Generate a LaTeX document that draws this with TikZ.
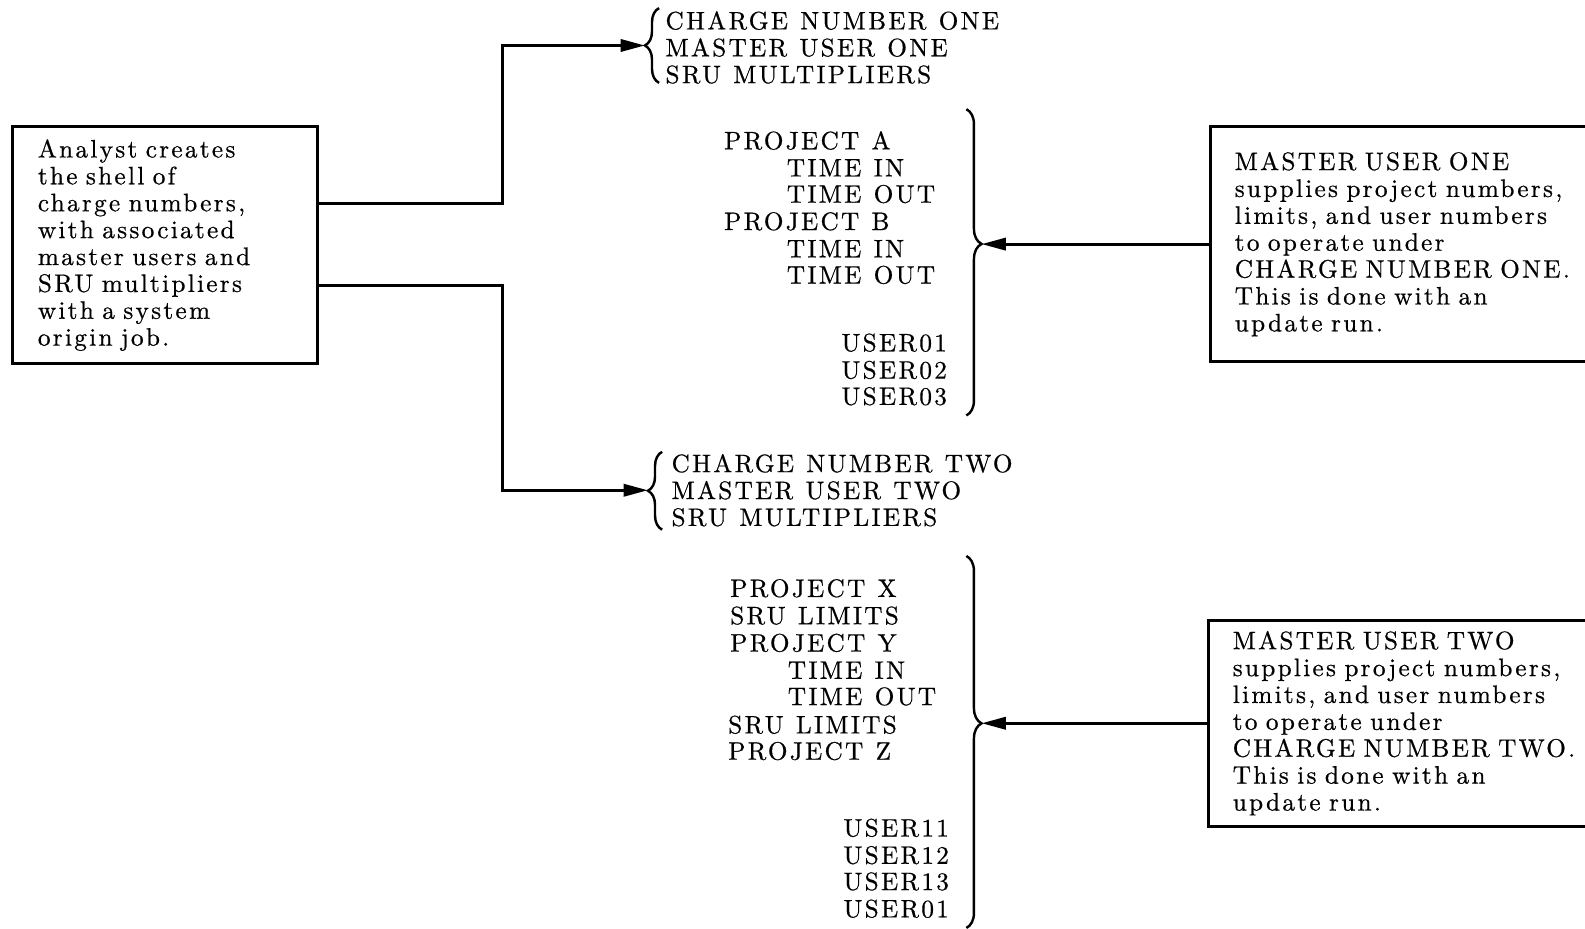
\documentclass[tikz,border=0pt]{standalone}
\usepackage{fontspec}
\setmainfont{lmroman10-regular.otf}[LetterSpace=9, WordSpace=1.15, FakeBold=0.6, BoldFont=lmroman10-bold.otf, ItalicFont=lmroman10-italic.otf]
\usepackage{tikz}
\usetikzlibrary{arrows.meta, calc, positioning, decorations.pathreplacing}

\tikzset{
    txt/.style={font=\fontsize{12.5}{13.3}\selectfont, inner sep=0pt},
    box/.style={draw, line width=1.5pt, inner xsep=12pt, inner ysep=4pt, align=left, anchor=north west},
    link/.style={line width=1.5pt, -{Triangle[length=12pt, width=6pt]}},
    brc/.style={decorate, decoration={brace, amplitude=#1}, line width=1.2pt}
}

\begin{document}
\begin{tikzpicture}[x=0.5pt, y=-0.5pt]
    \useasboundingbox (0,0) rectangle (1568,919);
    \clip (0,0) rectangle (1568,919);

    % analyst box
    \node[txt, box, minimum width=151pt, minimum height=117pt, text width=126pt] (shell) at (11,124)
        {Analyst creates\\the shell of\\charge numbers,\\with associated\\master users and\\SRU multipliers\\with a system\\origin job.};

    % charge numbers
    \coordinate (tipA) at (638,45);
    \coordinate (tipB) at (641,485);
    \draw[brc=7pt] (652,82) -- (652,8);
    \draw[brc=7pt] (655,524) -- (655,447);
    \node[txt, anchor=west, align=left] (cnone) at (658,47) {CHARGE NUMBER ONE\\MASTER USER ONE\\SRU MULTIPLIERS};
    \node[txt, anchor=west, align=left] (cntwo) at (664,485) {CHARGE NUMBER TWO\\MASTER USER TWO\\SRU MULTIPLIERS};

    \coordinate (forkA) at (497,201);
    \coordinate (forkB) at (497,282);
    \draw[link] (shell.east |- forkA) -- (forkA) |- (tipA);
    \draw[link] (shell.east |- forkB) -- (forkB) |- (tipB);

    % projects under charge number one
    \foreach \x/\y/\t [count=\i] in {716/139/PROJECT A, 778/166/TIME IN, 778/192/TIME OUT,
            716/219/PROJECT B, 778/246/TIME IN, 778/272/TIME OUT,
            832/339/USER01, 832/366/USER02, 832/392/USER03}
        \node[txt, anchor=west] (one-\i) at (\x,\y) {\t};
    \draw[brc=7.5pt, decoration={aspect=0.44}] (956,108) -- (956,411);
    \coordinate (tipC) at (971,241);

    % projects under charge number two
    \foreach \x/\y/\t [count=\i] in {722/582/PROJECT X, 722/609/SRU LIMITS, 722/636/PROJECT Y,
            779/663/TIME IN, 779/689/TIME OUT, 720/717/SRU LIMITS, 720/743/PROJECT Z,
            834/819/USER11, 834/846/USER12, 834/872/USER13, 834/899/USER01}
        \node[txt, anchor=west] (two-\i) at (\x,\y) {\t};
    \draw[brc=7.5pt, decoration={aspect=0.45}] (956,550) -- (956,918);
    \coordinate (tipD) at (971,716);

    % master user boxes
    \node[txt, box, minimum width=207pt, minimum height=116pt, text width=183pt] (muone) at (1196,124)
        {MASTER USER ONE\\supplies project numbers,\\limits, and user numbers\\to operate under\\CHARGE NUMBER ONE.\\This is done with an\\update run.};
    \node[txt, box, minimum width=207pt, minimum height=102pt, text width=183pt] (mutwo) at (1194,612)
        {MASTER USER TWO\\supplies project numbers,\\limits, and user numbers\\to operate under\\CHARGE NUMBER TWO.\\This is done with an\\update run.};

    \draw[link] (muone.west) -- (muone.west -| tipC);
    \draw[link] (mutwo.west) -- (mutwo.west -| tipD);
\end{tikzpicture}
\end{document}
